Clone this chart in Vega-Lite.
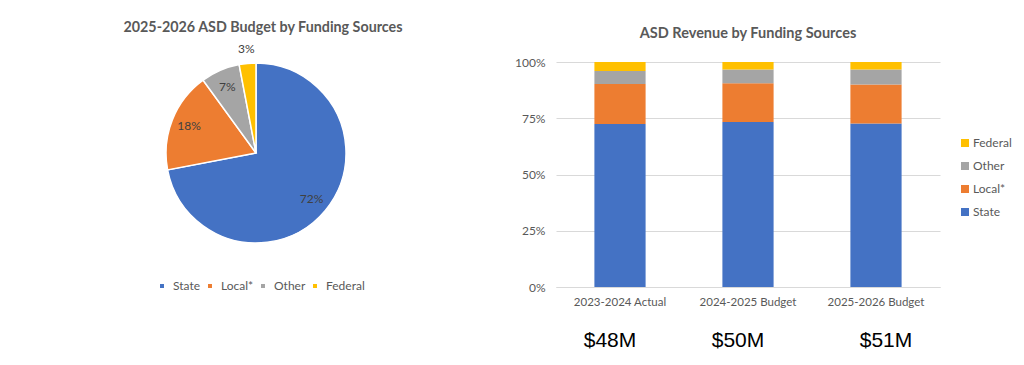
{
  "$schema": "https://vega.github.io/schema/vega-lite/v6.json",
  "background": "white",
  "padding": {"left": 116, "top": 21, "right": 0, "bottom": 0},
  "bounds": "flush",
  "config": {
    "view": {"stroke": null},
    "font": "Lato",
    "title": {"color": "#595959", "fontWeight": "bold", "font": "Lato"},
    "axis": {"labelColor": "#595959", "labelFont": "Lato", "labelFontSize": 12},
    "legend": {"labelColor": "#595959", "labelFont": "Lato", "labelFontSize": 12}
  },
  "datasets": {
    "pie": [
      {"source": "State", "share": 0.72},
      {"source": "Local*", "share": 0.18},
      {"source": "Other", "share": 0.07},
      {"source": "Federal", "share": 0.03}
    ],
    "bars": [
      {"year": "2023-2024 Actual", "total": "$48M", "source": "State", "share": 0.724},
      {"year": "2023-2024 Actual", "total": "$48M", "source": "Local*", "share": 0.178},
      {"year": "2023-2024 Actual", "total": "$48M", "source": "Other", "share": 0.058},
      {"year": "2023-2024 Actual", "total": "$48M", "source": "Federal", "share": 0.040},
      {"year": "2024-2025 Budget", "total": "$50M", "source": "State", "share": 0.733},
      {"year": "2024-2025 Budget", "total": "$50M", "source": "Local*", "share": 0.173},
      {"year": "2024-2025 Budget", "total": "$50M", "source": "Other", "share": 0.061},
      {"year": "2024-2025 Budget", "total": "$50M", "source": "Federal", "share": 0.033},
      {"year": "2025-2026 Budget", "total": "$51M", "source": "State", "share": 0.727},
      {"year": "2025-2026 Budget", "total": "$51M", "source": "Local*", "share": 0.173},
      {"year": "2025-2026 Budget", "total": "$51M", "source": "Other", "share": 0.067},
      {"year": "2025-2026 Budget", "total": "$51M", "source": "Federal", "share": 0.033}
    ]
  },
  "spacing": 160,
  "resolve": {"scale": {"color": "independent"}, "legend": {"color": "independent"}},
  "hconcat": [
    {
      "width": 280,
      "height": 182,
      "title": {"text": "2025-2026 ASD Budget by Funding Sources", "fontSize": 14.3, "frame": "group", "offset": 8, "dx": 7},
      "data": {"name": "pie"},
      "transform": [
        {"calculate": "indexof(['State','Local*','Other','Federal'], datum.source)", "as": "ord"}
      ],
      "encoding": {
        "theta": {"field": "share", "type": "quantitative", "stack": true},
        "order": {"field": "ord", "type": "quantitative"}
      },
      "layer": [
        {
          "mark": {"type": "arc", "outerRadius": 90, "stroke": "white", "strokeWidth": 1.5},
          "encoding": {
            "color": {
              "field": "source",
              "type": "nominal",
              "scale": {"domain": ["State", "Local*", "Other", "Federal"], "range": ["#4472C4", "#ED7D31", "#A5A5A5", "#FFC000"]},
              "legend": {
                "title": null,
                "orient": "none",
                "direction": "horizontal",
                "legendX": 40,
                "legendY": 218,
                "symbolType": "square",
                "symbolSize": 30,
                "columnPadding": 3,
                "labelOffset": 5
              }
            }
          }
        },
        {
          "mark": {"type": "text", "fontSize": 12, "color": "#404040", "font": "Lato", "radius": {"expr": "datum.source == 'Federal' ? 104 : 72"}},
          "encoding": {
            "text": {"field": "share", "type": "quantitative", "format": ".0%"}
          }
        }
      ]
    },
    {
      "width": 384,
      "height": 225,
      "title": {"text": "ASD Revenue by Funding Sources", "fontSize": 14.5, "frame": "group", "offset": 15},
      "data": {"name": "bars"},
      "transform": [
        {"calculate": "indexof(['State','Local*','Other','Federal'], datum.source)", "as": "ord"}
      ],
      "layer": [
        {
          "mark": {"type": "bar"},
          "encoding": {
            "x": {
              "field": "year",
              "type": "nominal",
              "scale": {"paddingInner": 0.6, "paddingOuter": 0.3},
              "axis": {"title": null, "labelAngle": 0, "ticks": false, "domain": true, "domainColor": "#D9D9D9", "labelPadding": 9, "labelFontSize": 11.5}
            },
            "y": {
              "field": "share",
              "type": "quantitative",
              "stack": "normalize",
              "axis": {"title": null, "values": [0, 0.25, 0.5, 0.75, 1], "format": ".0%", "ticks": false, "domain": false, "gridColor": "#D9D9D9", "labelPadding": 11}
            },
            "order": {"field": "ord", "type": "quantitative"},
            "color": {
              "field": "source",
              "type": "nominal",
              "scale": {"domain": ["Federal", "Other", "Local*", "State"], "range": ["#FFC000", "#A5A5A5", "#ED7D31", "#4472C4"]},
              "legend": {
                "title": null,
                "orient": "none",
                "legendX": 403,
                "legendY": 75,
                "symbolType": "square",
                "symbolSize": 64,
                "rowPadding": 11,
                "labelOffset": 2
              }
            }
          }
        },
        {
          "mark": {"type": "tick", "opacity": 0},
          "encoding": {
            "x": {
              "field": "year",
              "type": "nominal",
              "axis": {
                "title": null,
                "orient": "bottom",
                "labelAngle": 0,
                "ticks": false,
                "domain": false,
                "labelPadding": 42,
                "labelFont": "Liberation Sans",
                "labelFontSize": 21,
                "labelColor": "black",
                "labelOffset": {"condition": {"test": "datum.value == '2025-2026 Budget'", "value": 10}, "value": -10},
                "labelExpr": "datum.value == '2023-2024 Actual' ? '$48M' : datum.value == '2024-2025 Budget' ? '$50M' : '$51M'"
              }
            }
          }
        }
      ],
      "resolve": {"axis": {"x": "independent"}}
    }
  ]
}
